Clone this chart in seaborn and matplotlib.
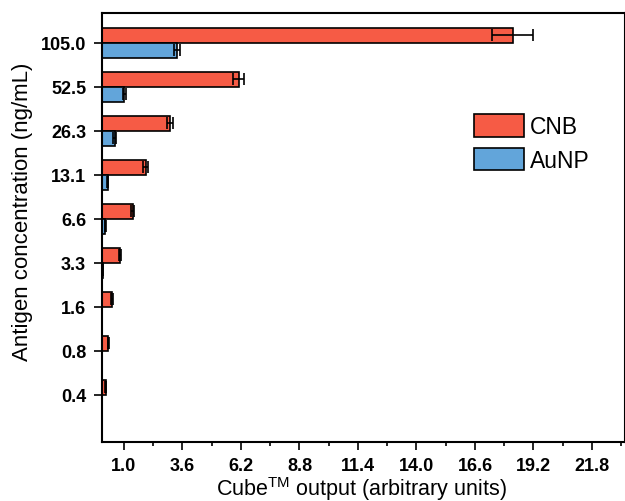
import numpy as np
import pandas as pd
import seaborn as sns
import matplotlib.pyplot as plt
from matplotlib.ticker import FixedLocator

# data (top to bottom)
concentrations = ["105.0", "52.5", "26.3", "13.1", "6.6", "3.3", "1.6", "0.8", "0.4"]
cnb_output = [18.27, 6.10, 3.05, 1.96, 1.39, 0.83, 0.47, 0.31, 0.19]
cnb_err = [0.92, 0.25, 0.15, 0.10, 0.06, 0.05, 0.03, 0.03, 0.02]
aunp_output = [3.36, 1.02, 0.58, 0.28, 0.16, 0.05, 0.0, 0.0, 0.0]
aunp_err = [0.12, 0.06, 0.05, 0.02, 0.02, 0.01, 0.0, 0.0, 0.0]
x_ticks = [1.0, 3.6, 6.2, 8.8, 11.4, 14.0, 16.6, 19.2, 21.8]

sns.set_style("ticks")
plt.rcParams["font.family"] = ["Liberation Sans", "DejaVu Sans"]
plt.rcParams["mathtext.default"] = "regular"
plt.rcParams["text.color"] = "black"
plt.rcParams["axes.labelcolor"] = "black"
plt.rcParams["xtick.color"] = "black"
plt.rcParams["ytick.color"] = "black"

df = pd.DataFrame({
    "Concentration": concentrations * 2,
    "Output": cnb_output + aunp_output,
    "Err": cnb_err + aunp_err,
    "Probe": ["CNB"] * len(concentrations) + ["AuNP"] * len(concentrations),
})

fig = plt.figure(figsize=(6.25, 5.02), dpi=100)
ax = fig.add_axes([0.1624, 0.1175, 0.8376, 0.8546])

sns.barplot(data=df, x="Output", y="Concentration", hue="Probe", orient="h",
            order=concentrations, hue_order=["CNB", "AuNP"],
            palette=["#F65B45", "#62A5DA"], saturation=1, width=0.68, errorbar=None,
            edgecolor="black", linewidth=1.2, ax=ax)

# error bars at the centre of each drawn bar
for container, errs in zip(ax.containers, [cnb_err, aunp_err]):
    for bar, e in zip(container, errs):
        if e <= 0:
            continue
        yc = bar.get_y() + bar.get_height() / 2
        ax.errorbar(bar.get_width(), yc, xerr=e, fmt="none", ecolor="black",
                    elinewidth=1.2, capsize=4, capthick=1.2, zorder=5)

ax.set_xlim(0, 23.27)
ax.set_ylim(9.07, -0.68)
ax.xaxis.set_major_locator(FixedLocator(x_ticks))
ax.xaxis.set_minor_locator(FixedLocator([t + 1.3 for t in x_ticks]))
ax.tick_params(axis="both", which="major", direction="out", length=6, width=1.2,
               labelsize=13, color="black", labelcolor="black", pad=5)
ax.tick_params(axis="x", which="minor", direction="out", length=3, width=1.2)
ax.set_xticklabels([f"{t:.1f}" for t in x_ticks], fontweight="bold")
ax.set_yticklabels(concentrations, fontweight="bold")

for sp in ax.spines.values():
    sp.set_visible(True)
    sp.set_linewidth(1.5)
    sp.set_color("black")

ax.set_xlabel("Cube$^{TM}$ output (arbitrary units)", fontsize=15.5)
ax.set_ylabel("Antigen concentration (ng/mL)", fontsize=16)
ax.xaxis.set_label_coords(0.496, -0.074)
ax.yaxis.set_label_coords(-0.13, 0.538)

ax.legend(loc="upper left", bbox_to_anchor=(0.712, 0.765), frameon=False,
          fontsize=16.5, handlelength=2.18, handleheight=1.15, handletextpad=0.25,
          labelspacing=0.42, borderpad=0, borderaxespad=0)

fig.savefig("out.png", dpi=100)
